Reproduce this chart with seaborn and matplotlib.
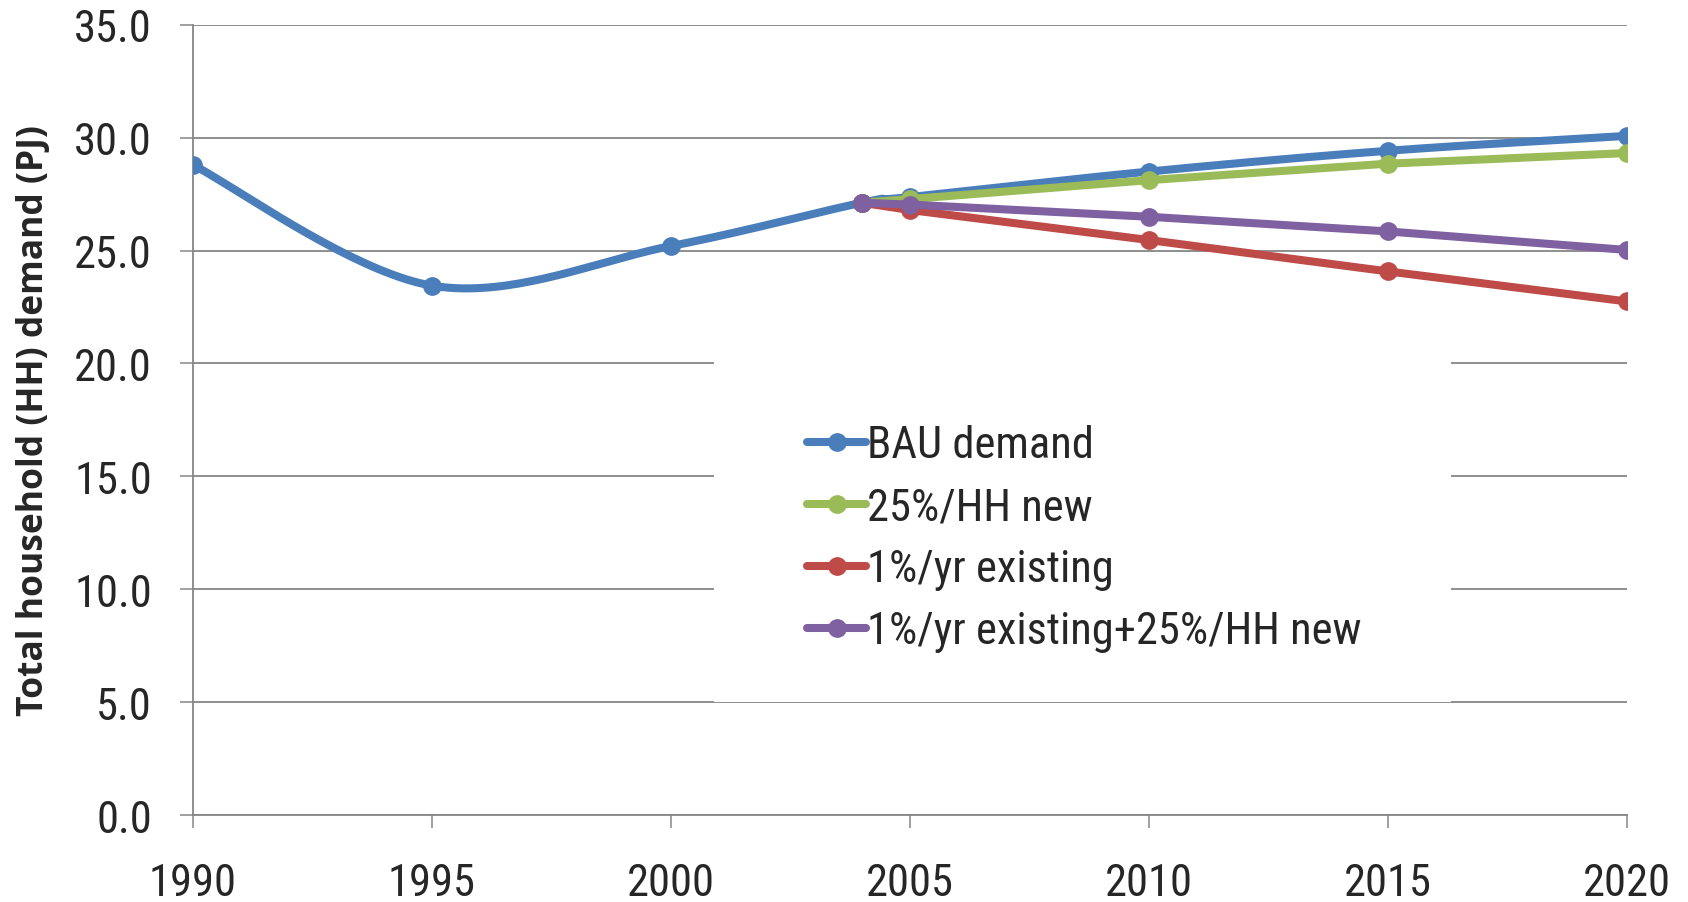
import numpy as np
import matplotlib
matplotlib.use("Agg")
import matplotlib.pyplot as plt
from matplotlib.lines import Line2D
from matplotlib.patches import Rectangle
from matplotlib import font_manager
import seaborn as sns

# data
bau_years = [1990, 1995, 2000, 2004, 2005, 2010, 2015, 2020]
bau_demand = [28.8, 23.45, 25.2, 27.12, 27.37, 28.5, 29.42, 30.08]

scen_years = [2004, 2005, 2010, 2015, 2020]
hh_new = [27.12, 27.28, 28.12, 28.85, 29.32]
yr_existing = [27.12, 26.8, 25.47, 24.08, 22.75]
yr_existing_hh_new = [27.12, 27.04, 26.5, 25.85, 25.03]

labels = ["BAU demand", "25%/HH new", "1%/yr existing", "1%/yr existing+25%/HH new"]
colors = ["#4A7EBB", "#9BBB59", "#BE4B48", "#7F60A0"]
x_ticks = [1990, 1995, 2000, 2005, 2010, 2015, 2020]
y_ticks = [0, 5, 10, 15, 20, 25, 30, 35]

sns.set_style("white")
names = {f.name for f in font_manager.fontManager.ttflist}
narrow = next((n for n in ["Liberation Sans Narrow", "Roboto Condensed", "Open Sans Condensed",
                           "Lato", "Open Sans"] if n in names), "DejaVu Sans")
plt.rcParams["font.family"] = [narrow, "DejaVu Sans"]


def smooth(xs, ys, n=40):
    # Excel-style smoothed line: Catmull-Rom control points on cubic Bezier
    p = np.column_stack([xs, ys]).astype(float)
    p = np.vstack([p[0], p, p[-1]])
    out = []
    for i in range(1, len(p) - 2):
        p0, p1, p2, p3 = p[i - 1], p[i], p[i + 1], p[i + 2]
        c1 = p1 + (p2 - p0) / 6
        c2 = p2 - (p3 - p1) / 6
        t = np.linspace(0, 1, n)[:, None]
        seg = ((1 - t) ** 3) * p1 + 3 * ((1 - t) ** 2) * t * c1 + 3 * (1 - t) * t ** 2 * c2 + t ** 3 * p2
        out.append(seg if i == 1 else seg[1:])
    out = np.vstack(out)
    return out[:, 0], out[:, 1]


fig = plt.figure(figsize=(16.88, 9.03), dpi=100)
ax = fig.add_axes([0.1142, 0.0963, 0.8494, 0.8751])

lw = 5.8
ms = 13.5

sx, sy = smooth(bau_years, bau_demand)
sns.lineplot(x=sx, y=sy, sort=False, estimator=None, color=colors[0], linewidth=lw, ax=ax, zorder=3)
ax.plot(bau_years, bau_demand, ls="none", marker="o", ms=ms, mew=0, color=colors[0], zorder=3)

for vals, c in zip([hh_new, yr_existing, yr_existing_hh_new], colors[1:]):
    sns.lineplot(x=scen_years, y=vals, color=c, linewidth=lw, marker="o", markersize=ms,
                 markeredgewidth=0, ax=ax, zorder=4)

ax.set_xlim(1990, 2020)
ax.set_ylim(0, 35)
ax.set_xticks(x_ticks)
ax.set_yticks(y_ticks)
ax.set_yticklabels([f"{v:.1f}" for v in y_ticks])
ax.yaxis.grid(True, color="#868686", lw=1.3)
ax.set_axisbelow(True)
for s in ["top", "right"]:
    ax.spines[s].set_visible(False)
for s in ["left", "bottom"]:
    ax.spines[s].set_color("#868686")
    ax.spines[s].set_linewidth(1.3)
ax.tick_params(axis="x", direction="out", length=9.5, width=1.1, color="#868686",
               labelsize=32, pad=24, bottom=True)
ax.tick_params(axis="y", direction="out", length=9.5, width=1.1, color="#868686",
               labelsize=32, pad=20, left=True)
ax.set_xlabel("")
ax.set_ylabel("Total household (HH) demand (PJ)", fontsize=25.5, fontweight="bold",
              family=["Open Sans", "DejaVu Sans"])
ax.yaxis.set_label_coords(-0.098, 0.5)

# white box behind the legend hides the gridlines there
ax.add_patch(Rectangle((0.3636, 0.143), 0.514, 0.43, transform=ax.transAxes,
                       facecolor="white", edgecolor="none", zorder=2))

handles = [Line2D([], [], color=c, lw=lw, marker="o", ms=ms, markeredgewidth=0) for c in colors]
ax.legend(handles, labels, loc="center left", bbox_to_anchor=(0.4284, 0.350),
          frameon=False, fontsize=32, handlelength=1.33, handletextpad=0.03,
          labelspacing=0.45, borderpad=0, borderaxespad=0, numpoints=1)

fig.savefig("out.png", dpi=100)
